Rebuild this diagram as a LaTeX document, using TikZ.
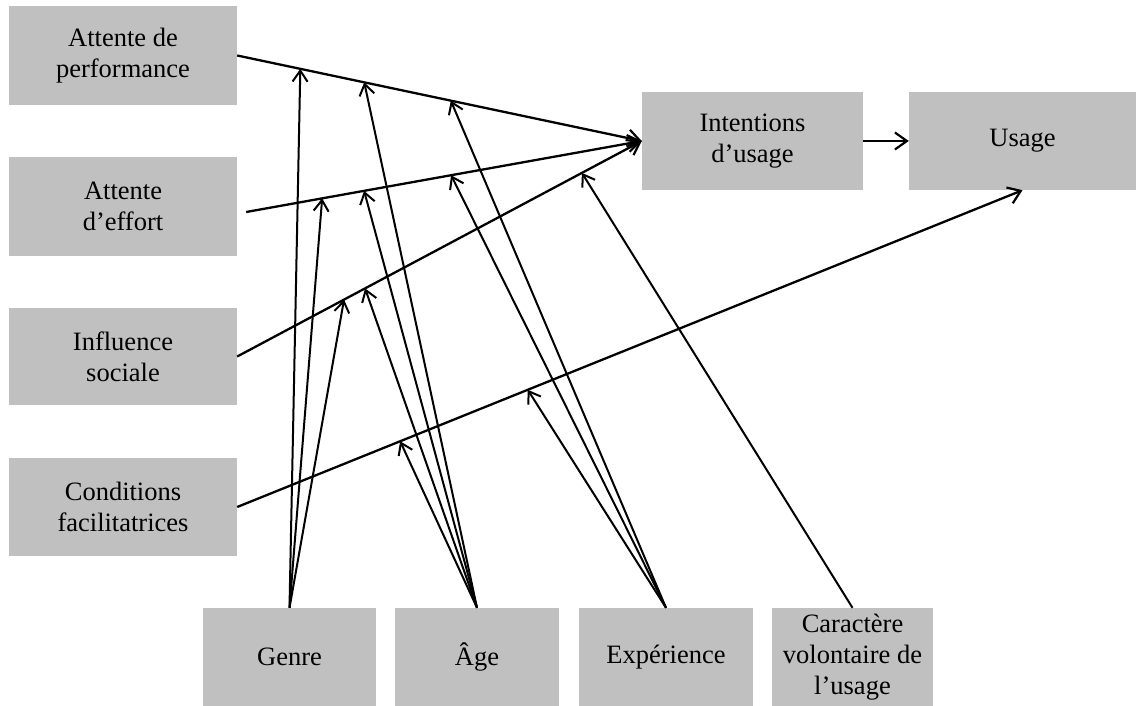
\documentclass[tikz,border=0pt]{standalone}
\usepackage{fontspec}
\setmainfont{Liberation Serif}
\usetikzlibrary{arrows.meta,calc}
\definecolor{boxgray}{RGB}{192,192,192}
\begin{document}
\begin{tikzpicture}[x=1pt,y=-1pt,
  box/.style={fill=boxgray,draw=none,inner sep=0pt,align=center,
    font=\fontsize{26.5}{31}\selectfont},
  link/.style={line width=2.3pt,-{Straight Barb[length=12pt,width=17pt,line width=2.2pt]}},
  modline/.style={line width=2pt,-{Straight Barb[length=11pt,width=15pt,line width=2pt]}}]
\useasboundingbox (0,0) rectangle (1136,706);
% predictors on the left
\node[box,minimum width=228pt,minimum height=99pt] (perf) at (123,55.5) {Attente de\\performance};
\node[box,minimum width=228pt,minimum height=99pt] (effort) at (123,206.5) {Attente\\d’effort};
\node[box,minimum width=228pt,minimum height=97pt] (infl) at (123,356.5) {Influence\\sociale};
\node[box,minimum width=228pt,minimum height=98pt] (cond) at (123,507) {Conditions\\facilitatrices};
% outcomes
\node[box,minimum width=221pt,minimum height=98pt] (intent) at (752.5,141) {Intentions\\d’usage};
\node[box,minimum width=227pt,minimum height=98pt] (usage) at (1022.5,141) {Usage};
% moderators along the bottom
\node[box,minimum width=173pt,minimum height=98pt] (genre) at (289.5,657) {Genre};
\node[box,minimum width=164pt,minimum height=98pt] (age) at (477,657) {Âge};
\node[box,minimum width=174pt,minimum height=98pt] (exp) at (666,657) {Expérience};
\node[box,minimum width=161pt,minimum height=98pt] (vol) at (852.5,657) {Caractère\\volontaire de\\l’usage};
% main paths
\coordinate (effS) at ([xshift=9pt,yshift=-5.5pt]effort.east);
\draw[link] (perf.east) -- (intent.west);
\draw[link] (effS) -- (intent.west);
\draw[link] (infl.east) -- (intent.west);
\draw[link] (cond.east) -- (usage.south);
\draw[link] (intent.east) -- (usage.west);
% moderation points on the main paths
\path (perf.east) -- (intent.west)
  coordinate[pos=0.156] (pG) coordinate[pos=0.314] (pA) coordinate[pos=0.528] (pE);
\path (effS) -- (intent.west)
  coordinate[pos=0.192] (eG) coordinate[pos=0.298] (eA) coordinate[pos=0.518] (eE);
\path (infl.east) -- (intent.west)
  coordinate[pos=0.264] (sG) coordinate[pos=0.316] (sA) coordinate[pos=0.852] (sV);
\path (cond.east) -- (usage.south)
  coordinate[pos=0.2075] (cA) coordinate[pos=0.370] (cE);
% moderator arrows
\foreach \t in {pG,eG,sG} \draw[modline] (genre.north) -- (\t);
\foreach \t in {pA,eA,sA,cA} \draw[modline] (age.north) -- (\t);
\foreach \t in {pE,eE,cE} \draw[modline] (exp.north) -- (\t);
\draw[modline] (vol.north) -- (sV);
\end{tikzpicture}
\end{document}
